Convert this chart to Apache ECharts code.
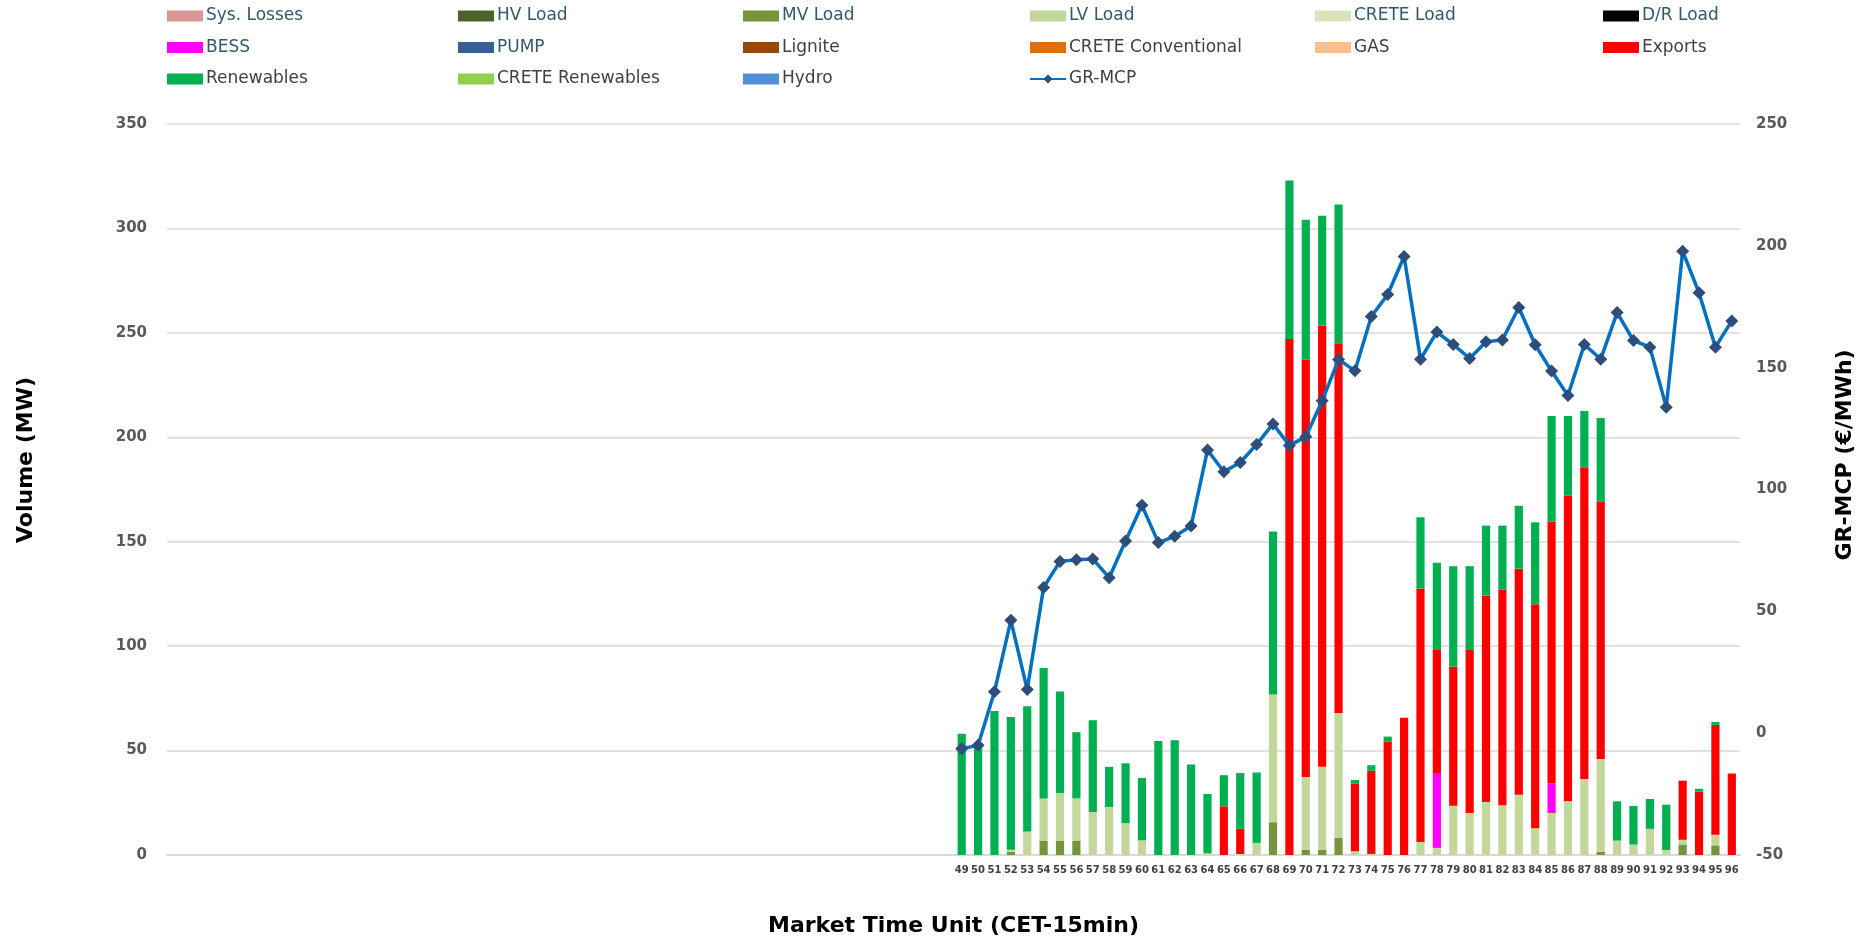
<!DOCTYPE html>
<html>
<head>
<meta charset="utf-8">
<title>GR-MCP volumes</title>
<script src="https://cdn.jsdelivr.net/npm/echarts@6/dist/echarts.min.js"></script>
<style>
  html, body { margin: 0; padding: 0; background: #fff; }
  #chart { width: 1874px; height: 944px; }
</style>
</head>
<body>
<div id="chart"></div>
<script>
// MTU 1-48 are empty in the source, labels only from 49
const emptySlots = 48
const mtuLabels = ['49','50','51','52','53','54','55','56','57','58','59','60','61','62','63','64',
  '65','66','67','68','69','70','71','72','73','74','75','76','77','78','79','80',
  '81','82','83','84','85','86','87','88','89','90','91','92','93','94','95','96']

// values for MTU 49..96 (MW)
const mvLoad = [0,0,0,1.5,0,6.7,6.7,6.7,0,0,0,0,0,0,0,0,
  0,0,0,15.7,0,2.4,2.4,8.3,0,0,0,0,0,0,0,0,
  0,0,0,0,0,0,0,1.6,0,0,0,0,5,0,4.6,0]
const lvLoad = [0,0,0,1,11.3,20.4,23,20.4,20.6,23,15.2,7,0,0,0,0.8,
  0,0.5,5.8,61.2,0,35,39.8,59.7,1.8,0.5,0,0,6.2,3.4,23.6,20.1,
  25.4,23.8,28.9,12.8,20.1,25.7,36.4,44.4,6.9,5,12.5,2.4,2.3,0,5.1,0]
const bess = [0,0,0,0,0,0,0,0,0,0,0,0,0,0,0,0,
  0,0,0,0,0,0,0,0,0,0,0,0,0,35.9,0,0,
  0,0,0,0,14.1,0,0,0,0,0,0,0,0,0,0,0]
const exportsMW = [0,0,0,0,0,0,0,0,0,0,0,0,0,0,0,0,
  23.3,12.1,0,0,247,199.9,211.3,177,32.5,39.8,54.3,65.7,121.4,58.8,66.7,78,
  98.9,103.2,108.2,107.2,125.4,146.4,149.3,123.2,0,0,0,0,28.3,30.4,52.6,39]
const renewables = [58,53,69,63.6,59.9,62.4,48.6,31.7,43.9,19.2,28.7,29.9,54.6,55,43.3,28.4,
  14.9,26.7,33.7,78,76,66.8,52.6,66.5,1.6,2.7,2.4,0,34.1,41.8,47.9,40.2,
  33.4,30.7,30.1,39.3,50.6,38.1,26.9,40,18.8,18.5,14.3,21.7,0,1.3,1.4,0]
// €/MWh
const grMcp = [-6.4,-5,17,46.3,17.9,59.8,70.5,71.2,71.5,63.8,78.9,93.5,78.2,80.8,85,116.2,
  107.3,111.1,118.5,126.9,118.1,121.6,136.4,153.4,148.7,171,180,195.6,153.5,164.6,159.5,153.8,
  160.6,161.4,174.7,159.4,148.6,138.6,159.5,153.5,172.6,161.1,158.4,133.8,197.8,180.7,158.4,169.2]

const categories = new Array(emptySlots).fill('').concat(mtuLabels)
const pad = arr => new Array(emptySlots).fill(null).concat(arr)

// stack order = legend order (bottom to top)
const barSeries = [
  { name: 'Sys. Losses', color: '#DA9694', data: [] },
  { name: 'HV Load', color: '#4F6228', data: [] },
  { name: 'MV Load', color: '#77933C', data: mvLoad },
  { name: 'LV Load', color: '#C4D79B', data: lvLoad },
  { name: 'CRETE Load', color: '#D8E4BC', data: [] },
  { name: 'D/R Load', color: '#000000', data: [] },
  { name: 'BESS', color: '#FF00FF', data: bess },
  { name: 'PUMP', color: '#366092', data: [] },
  { name: 'Lignite', color: '#974706', data: [] },
  { name: 'CRETE Conventional', color: '#E26B0A', data: [] },
  { name: 'GAS', color: '#FABF8F', data: [] },
  { name: 'Exports', color: '#FF0000', data: exportsMW },
  { name: 'Renewables', color: '#00B050', data: renewables },
  { name: 'CRETE Renewables', color: '#92D050', data: [] },
  { name: 'Hydro', color: '#538DD5', data: [] }
]

// legend laid out in 6 columns like the excel one
const legendCols = [
  ['Sys. Losses', 'BESS', 'Renewables'],
  ['HV Load', 'PUMP', 'CRETE Renewables'],
  ['MV Load', 'Lignite', 'Hydro'],
  ['LV Load', 'CRETE Conventional', 'GR-MCP'],
  ['CRETE Load', 'GAS'],
  ['D/R Load', 'Exports']
]
const colX = [167, 458, 743, 1029, 1315, 1603]
const tealNames = ['Sys. Losses', 'HV Load', 'MV Load', 'LV Load', 'CRETE Load', 'D/R Load', 'BESS', 'PUMP']

const myChart = echarts.init(document.getElementById('chart'), null, { renderer: 'canvas' })

const option = {
  animation: false,
  backgroundColor: '#ffffff',
  legend: legendCols.map((col, i) => ({
    orient: 'vertical',
    left: colX[i],
    top: 6,
    padding: 0,
    itemGap: 11.5,
    itemWidth: 36,
    itemHeight: 11,
    selectedMode: false,
    data: col.map(n => ({
      name: n,
      icon: n === 'GR-MCP' ? undefined : 'rect',
      textStyle: { color: tealNames.includes(n) ? '#31596B' : '#404040' }
    })),
    textStyle: {
      fontFamily: 'DejaVu Sans',
      fontSize: 17,
      lineHeight: 20,
      padding: [0, 0, 0, -2]
    }
  })),
  grid: {
    left: 167,
    right: 134,
    top: 124,
    bottom: 89
  },
  xAxis: {
    type: 'category',
    data: categories,
    name: 'Market Time Unit (CET-15min)',
    nameLocation: 'middle',
    nameGap: 60,
    nameTextStyle: {
      fontFamily: 'DejaVu Sans',
      fontWeight: 'bold',
      fontSize: 22,
      color: '#000'
    },
    axisLine: { lineStyle: { color: '#D9D9D9', width: 2 } },
    axisTick: { show: false },
    axisLabel: {
      interval: 0,
      margin: 10,
      fontFamily: 'DejaVu Sans',
      fontWeight: 'bold',
      fontSize: 10,
      color: '#404040'
    }
  },
  yAxis: [
    {
      type: 'value',
      min: 0,
      max: 350,
      interval: 50,
      axisLine: { show: false },
      axisTick: { show: false },
      splitLine: { lineStyle: { color: '#D9D9D9', width: 1.5 } },
      axisLabel: {
        margin: 20,
        fontFamily: 'DejaVu Sans',
        fontWeight: 'bold',
        fontSize: 15,
        color: '#595959'
      }
    },
    {
      type: 'value',
      min: -50,
      max: 250,
      interval: 50,
      axisLine: { show: false },
      axisTick: { show: false },
      splitLine: { show: false },
      axisLabel: {
        margin: 16,
        fontFamily: 'DejaVu Sans',
        fontWeight: 'bold',
        fontSize: 15,
        color: '#595959'
      }
    }
  ],
  graphic: [
    {
      type: 'text',
      x: 26,
      y: 460,
      rotation: Math.PI / 2,
      style: {
        text: 'Volume (MW)',
        font: 'bold 22px "DejaVu Sans"',
        fill: '#000',
        align: 'center',
        verticalAlign: 'middle'
      }
    },
    {
      type: 'text',
      x: 1845,
      y: 455,
      rotation: Math.PI / 2,
      style: {
        text: 'GR-MCP (€/MWh)',
        font: 'bold 22px "DejaVu Sans"',
        fill: '#000',
        align: 'center',
        verticalAlign: 'middle'
      }
    }
  ],
  series: barSeries.map(s => ({
    name: s.name,
    type: 'bar',
    stack: 'vol',
    barWidth: '50%',
    itemStyle: { color: s.color },
    data: s.data.length ? pad(s.data) : []
  })).concat([
    {
      name: 'GR-MCP',
      type: 'line',
      yAxisIndex: 1,
      symbol: 'diamond',
      symbolSize: 13,
      lineStyle: { color: '#0070C0', width: 3.5 },
      itemStyle: { color: '#2E4D7B' },
      z: 5,
      data: pad(grMcp)
    }
  ])
}

option && myChart.setOption(option)
</script>
</body>
</html>
